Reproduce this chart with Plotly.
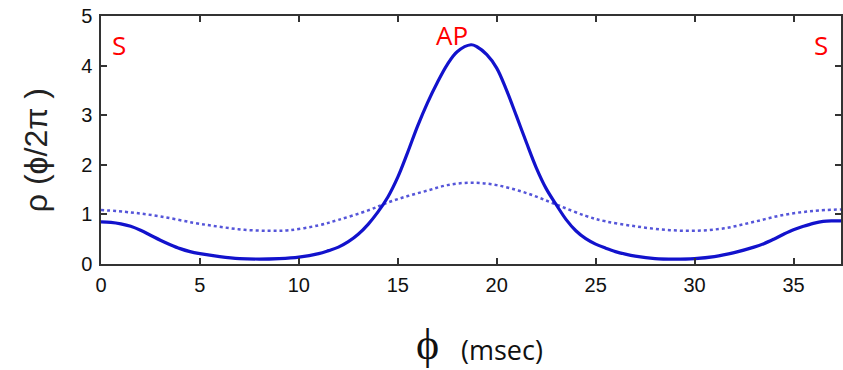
import plotly.graph_objects as go

# data
x_solid = [0, 0.5, 1, 1.5, 2, 2.5, 3, 3.5, 4, 4.5, 5, 6, 7, 8, 9, 10, 11, 11.5, 12,
           12.5, 13, 13.5, 14, 14.5, 15, 15.5, 16, 16.5, 17, 17.5, 18, 18.7, 19, 19.5,
           20, 20.5, 21, 21.5, 22, 22.5, 23, 23.5, 24, 24.5, 25, 25.5, 26, 26.5, 27,
           28, 29, 30, 31, 32, 33, 33.5, 34, 34.5, 35, 35.5, 36, 36.5, 37, 37.4]
y_solid = [0.85, 0.84, 0.81, 0.76, 0.68, 0.58, 0.48, 0.39, 0.31, 0.25, 0.21, 0.15, 0.11,
           0.10, 0.11, 0.14, 0.21, 0.27, 0.34, 0.45, 0.60, 0.80, 1.05, 1.35, 1.75, 2.25,
           2.78, 3.25, 3.66, 4.02, 4.28, 4.42, 4.38, 4.22, 3.95, 3.50, 2.98, 2.45, 1.94,
           1.52, 1.20, 0.90, 0.67, 0.51, 0.40, 0.32, 0.25, 0.20, 0.16, 0.11, 0.10, 0.11,
           0.15, 0.23, 0.34, 0.41, 0.50, 0.60, 0.69, 0.76, 0.82, 0.86, 0.87, 0.87]

x_dot = [0, 1.5, 3, 4.7, 6, 7.25, 8.5, 9.5, 11, 12, 13.5, 14.5, 15.5, 16.5, 17.5, 18.7,
         20, 21.5, 23, 24.5, 25.5, 27, 28.5, 30, 31.5, 33, 34.5, 36, 37.4]
y_dot = [1.09, 1.04, 0.96, 0.83, 0.75, 0.69, 0.67, 0.68, 0.78, 0.89, 1.08, 1.24, 1.37,
         1.48, 1.59, 1.64, 1.59, 1.43, 1.20, 0.97, 0.86, 0.76, 0.69, 0.67, 0.72, 0.85,
         0.99, 1.07, 1.10]

x_ticks = [0, 5, 10, 15, 20, 25, 30, 35]
y_ticks = [0, 1, 2, 3, 4, 5]

labels = ["S", "AP", "S"]
label_x = [0.9, 17.75, 36.4]
label_y = [4.42, 4.62, 4.42]

fig = go.Figure()
fig.add_trace(go.Scatter(x=x_dot, y=y_dot, mode="lines", line_shape="spline",
                         line=dict(color="rgba(55,55,210,0.85)", width=2.5, dash="dot"),
                         showlegend=False))
fig.add_trace(go.Scatter(x=x_solid, y=y_solid, mode="lines", line_shape="spline",
                         line=dict(color="#1212cc", width=3.2),
                         showlegend=False))

for t, xx, yy in zip(labels, label_x, label_y):
    fig.add_annotation(x=xx, y=yy, text=t, showarrow=False,
                       font=dict(family="Open Sans", size=26, color="#ff0000"))

fig.add_annotation(xref="paper", yref="paper", x=(36 - 101) / 742, y=(264 - 150) / 248,
                   xanchor="center", yanchor="middle", text="ρ (ϕ/2π )",
                   textangle=-90, showarrow=False,
                   font=dict(family="Liberation Sans", size=32, color="#222"))
fig.add_annotation(xref="paper", yref="paper", x=(428 - 101) / 742, y=-(344 - 264) / 248,
                   xanchor="center", yanchor="middle",
                   text="ϕ", showarrow=False,
                   font=dict(family="Liberation Serif", size=44, color="#111"))
fig.add_annotation(xref="paper", yref="paper", x=(503 - 101) / 742, y=-(349 - 264) / 248,
                   xanchor="center", yanchor="middle",
                   text="(msec)", showarrow=False,
                   font=dict(family="Open Sans", size=27, color="#111"))

axis_common = dict(showgrid=False, zeroline=False, showline=True, linecolor="#333",
                   linewidth=1.5, mirror="ticks", ticks="inside", ticklen=6,
                   tickwidth=1.5, tickcolor="#333",
                   tickfont=dict(family="Liberation Sans", size=20, color="#111"))

fig.update_layout(
    width=843, height=370,
    margin=dict(l=101, r=0, t=16, b=106),
    plot_bgcolor="white", paper_bgcolor="white",
    xaxis=dict(range=[0, 37.4], tickvals=x_ticks, ticklabelstandoff=2, **axis_common),
    yaxis=dict(range=[0, 5], tickvals=y_ticks, ticklabelstandoff=3, **axis_common),
)

fig.write_html("out.html")
